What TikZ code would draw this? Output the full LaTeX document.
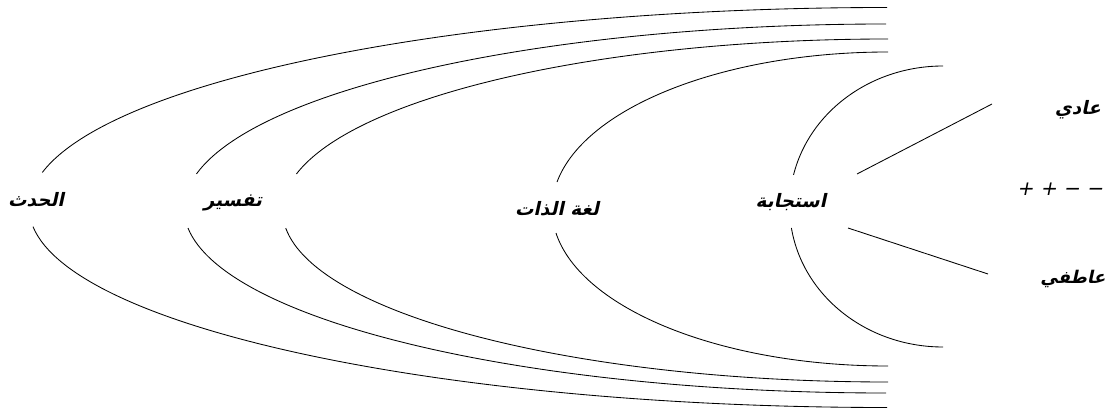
\documentclass[tikz,border=0pt]{standalone}
\usepackage{fontspec}
\TeXXeTstate=1
\newfontfamily\arabicfont[Script=Arabic,FakeSlant=0.22]{DejaVu Sans Bold}
\newfontfamily\signfont[FakeSlant=0.2]{DejaVu Sans}
\begin{document}
\begin{tikzpicture}[x=1pt,y=1pt,
  curve/.style={line width=0.85pt},
  link/.style={line width=0.85pt},
  lbl/.style={inner sep=0pt,font=\fontsize{18.5}{22}\selectfont\arabicfont},
  sgn/.style={inner sep=0pt,font=\fontsize{20}{24}\selectfont\signfont}]
\useasboundingbox (0,0) rectangle (1109,410);
% nested elliptic brackets: cx/cy/a/b/top gap angle/bottom gap angle
\foreach \cx/\cy/\a/\b/\ta/\tb in {
  887/202.5/858/200/169.9/185.5,
  886/201.5/702/184.5/169.2/186.1,
  888/199.5/605.5/171.5/167.7/185.9,
  888/201/336/157/170.1/188.8,
  943/203.5/153.4/140.5/167.0/188.8}{
  \draw[curve] (\cx,{\cy+\b}) arc[start angle=90,end angle=\ta,x radius=\a pt,y radius=\b pt];
  \draw[curve] (\cx,{\cy-\b}) arc[start angle=270,end angle=\tb,x radius=\a pt,y radius=\b pt];
}
\node[lbl] (hadath) at (36,210) {\beginR الحدث\endR};
\node[lbl] (tafsir) at (233,207) {\beginR تفسير\endR};
\node[lbl] (lugha) at (557,201) {\beginR لغة الذات\endR};
\node[lbl] (istijaba) at (791,208) {\beginR استجابة\endR};
\node[lbl] (adi) at (1078,300) {\beginR عادي\endR};
\node[lbl,font=\fontsize{17.5}{21}\selectfont\arabicfont] (atifi) at (1073,131) {\beginR عاطفي\endR};
\node[sgn] (signs) at (1060,221) {+ + − −};
\coordinate (u1) at (857,236);
\coordinate (u2) at (992,306);
\coordinate (d1) at (848,182);
\coordinate (d2) at (988,136);
\draw[link] (u1) -- (u2);
\draw[link] (d1) -- (d2);
\end{tikzpicture}
\end{document}
